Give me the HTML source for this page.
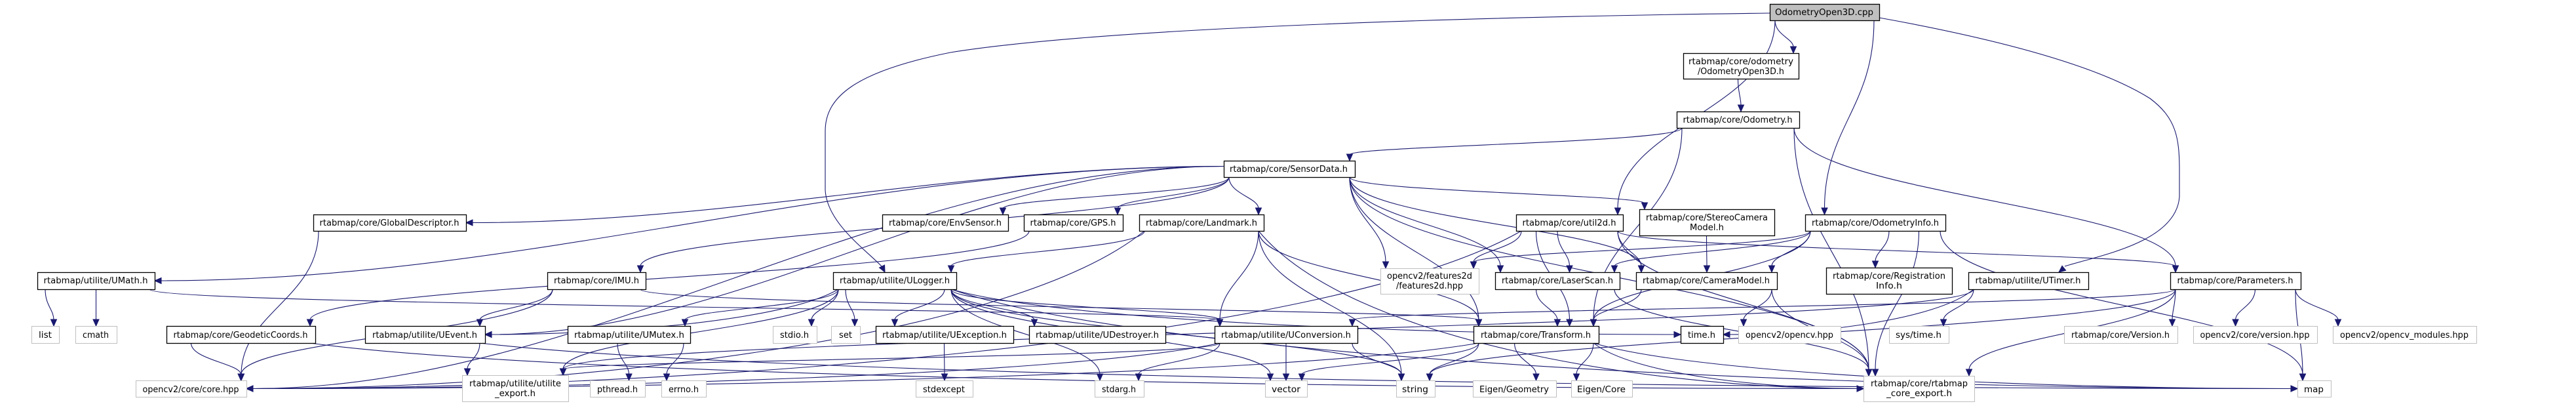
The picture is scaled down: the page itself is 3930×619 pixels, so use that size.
<!DOCTYPE html>
<html><head><meta charset="utf-8"><style>
html,body{margin:0;padding:0;background:#fff;width:3930px;height:619px;overflow:hidden}
svg text{font-family:"DejaVu Sans","Liberation Sans",sans-serif;font-size:13px;fill:#000}
</style></head><body>
<svg id="s" width="3930" height="619" viewBox="0 0 3930 619" xmlns="http://www.w3.org/2000/svg">
<g id="edges" fill="none" stroke="#191970" stroke-width="1.1"></g>
<g id="heads" fill="#191970" stroke="#191970"></g>
<g id="nodes"></g>
<g id="labels">
<text x="2783" y="23" text-anchor="middle" textLength="150" lengthAdjust="spacingAndGlyphs">OdometryOpen3D.cpp</text>
<text x="2656" y="98" text-anchor="middle" textLength="160" lengthAdjust="spacingAndGlyphs">rtabmap/core/odometry</text>
<text x="2656" y="113" text-anchor="middle" textLength="132" lengthAdjust="spacingAndGlyphs">/OdometryOpen3D.h</text>
<text x="2651" y="187" text-anchor="middle" textLength="167" lengthAdjust="spacingAndGlyphs">rtabmap/core/Odometry.h</text>
<text x="1966" y="262" text-anchor="middle" textLength="180" lengthAdjust="spacingAndGlyphs">rtabmap/core/SensorData.h</text>
<text x="594" y="344" text-anchor="middle" textLength="213" lengthAdjust="spacingAndGlyphs">rtabmap/core/GlobalDescriptor.h</text>
<text x="1442" y="344" text-anchor="middle" textLength="172" lengthAdjust="spacingAndGlyphs">rtabmap/core/EnvSensor.h</text>
<text x="1637" y="344" text-anchor="middle" textLength="131" lengthAdjust="spacingAndGlyphs">rtabmap/core/GPS.h</text>
<text x="1833" y="344" text-anchor="middle" textLength="170" lengthAdjust="spacingAndGlyphs">rtabmap/core/Landmark.h</text>
<text x="2394" y="344" text-anchor="middle" textLength="143" lengthAdjust="spacingAndGlyphs">rtabmap/core/util2d.h</text>
<text x="2604" y="336" text-anchor="middle" textLength="186" lengthAdjust="spacingAndGlyphs">rtabmap/core/StereoCamera</text>
<text x="2604" y="351" text-anchor="middle" textLength="52" lengthAdjust="spacingAndGlyphs">Model.h</text>
<text x="2861" y="344" text-anchor="middle" textLength="194" lengthAdjust="spacingAndGlyphs">rtabmap/core/OdometryInfo.h</text>
<text x="146" y="432" text-anchor="middle" textLength="159" lengthAdjust="spacingAndGlyphs">rtabmap/utilite/UMath.h</text>
<text x="910" y="432" text-anchor="middle" textLength="130" lengthAdjust="spacingAndGlyphs">rtabmap/core/IMU.h</text>
<text x="1365" y="432" text-anchor="middle" textLength="168" lengthAdjust="spacingAndGlyphs">rtabmap/utilite/ULogger.h</text>
<text x="2181" y="425" text-anchor="middle" textLength="130" lengthAdjust="spacingAndGlyphs">opencv2/features2d</text>
<text x="2181" y="440" text-anchor="middle" textLength="102" lengthAdjust="spacingAndGlyphs">/features2d.hpp</text>
<text x="2376" y="432" text-anchor="middle" textLength="170" lengthAdjust="spacingAndGlyphs">rtabmap/core/LaserScan.h</text>
<text x="2603" y="432" text-anchor="middle" textLength="194" lengthAdjust="spacingAndGlyphs">rtabmap/core/CameraModel.h</text>
<text x="2882" y="425" text-anchor="middle" textLength="172" lengthAdjust="spacingAndGlyphs">rtabmap/core/Registration</text>
<text x="2882" y="440" text-anchor="middle" textLength="40" lengthAdjust="spacingAndGlyphs">Info.h</text>
<text x="3094" y="432" text-anchor="middle" textLength="161" lengthAdjust="spacingAndGlyphs">rtabmap/utilite/UTimer.h</text>
<text x="3410" y="432" text-anchor="middle" textLength="177" lengthAdjust="spacingAndGlyphs">rtabmap/core/Parameters.h</text>
<text x="69" y="515" text-anchor="middle" textLength="20" lengthAdjust="spacingAndGlyphs">list</text>
<text x="146" y="515" text-anchor="middle" textLength="40" lengthAdjust="spacingAndGlyphs">cmath</text>
<text x="367" y="515" text-anchor="middle" textLength="205" lengthAdjust="spacingAndGlyphs">rtabmap/core/GeodeticCoords.h</text>
<text x="648" y="515" text-anchor="middle" textLength="160" lengthAdjust="spacingAndGlyphs">rtabmap/utilite/UEvent.h</text>
<text x="960" y="515" text-anchor="middle" textLength="168" lengthAdjust="spacingAndGlyphs">rtabmap/utilite/UMutex.h</text>
<text x="1212" y="515" text-anchor="middle" textLength="44" lengthAdjust="spacingAndGlyphs">stdio.h</text>
<text x="1290" y="515" text-anchor="middle" textLength="20" lengthAdjust="spacingAndGlyphs">set</text>
<text x="1441" y="515" text-anchor="middle" textLength="190" lengthAdjust="spacingAndGlyphs">rtabmap/utilite/UException.h</text>
<text x="1674" y="515" text-anchor="middle" textLength="188" lengthAdjust="spacingAndGlyphs">rtabmap/utilite/UDestroyer.h</text>
<text x="1962" y="515" text-anchor="middle" textLength="198" lengthAdjust="spacingAndGlyphs">rtabmap/utilite/UConversion.h</text>
<text x="2343" y="515" text-anchor="middle" textLength="168" lengthAdjust="spacingAndGlyphs">rtabmap/core/Transform.h</text>
<text x="2596" y="515" text-anchor="middle" textLength="42" lengthAdjust="spacingAndGlyphs">time.h</text>
<text x="2730" y="515" text-anchor="middle" textLength="134" lengthAdjust="spacingAndGlyphs">opencv2/opencv.hpp</text>
<text x="2927" y="515" text-anchor="middle" textLength="70" lengthAdjust="spacingAndGlyphs">sys/time.h</text>
<text x="3235" y="515" text-anchor="middle" textLength="150" lengthAdjust="spacingAndGlyphs">rtabmap/core/Version.h</text>
<text x="3440" y="515" text-anchor="middle" textLength="167" lengthAdjust="spacingAndGlyphs">opencv2/core/version.hpp</text>
<text x="3668" y="515" text-anchor="middle" textLength="196" lengthAdjust="spacingAndGlyphs">opencv2/opencv_modules.hpp</text>
<text x="291" y="598" text-anchor="middle" textLength="147" lengthAdjust="spacingAndGlyphs">opencv2/core/core.hpp</text>
<text x="786" y="589" text-anchor="middle" textLength="140" lengthAdjust="spacingAndGlyphs">rtabmap/utilite/utilite</text>
<text x="786" y="604" text-anchor="middle" textLength="62" lengthAdjust="spacingAndGlyphs">_export.h</text>
<text x="942" y="598" text-anchor="middle" textLength="62" lengthAdjust="spacingAndGlyphs">pthread.h</text>
<text x="1043" y="598" text-anchor="middle" textLength="46" lengthAdjust="spacingAndGlyphs">errno.h</text>
<text x="1440" y="598" text-anchor="middle" textLength="64" lengthAdjust="spacingAndGlyphs">stdexcept</text>
<text x="1707" y="598" text-anchor="middle" textLength="52" lengthAdjust="spacingAndGlyphs">stdarg.h</text>
<text x="1962" y="598" text-anchor="middle" textLength="44" lengthAdjust="spacingAndGlyphs">vector</text>
<text x="2159" y="598" text-anchor="middle" textLength="40" lengthAdjust="spacingAndGlyphs">string</text>
<text x="2310" y="598" text-anchor="middle" textLength="106" lengthAdjust="spacingAndGlyphs">Eigen/Geometry</text>
<text x="2443" y="598" text-anchor="middle" textLength="74" lengthAdjust="spacingAndGlyphs">Eigen/Core</text>
<text x="2928" y="589" text-anchor="middle" textLength="148" lengthAdjust="spacingAndGlyphs">rtabmap/core/rtabmap</text>
<text x="2928" y="604" text-anchor="middle" textLength="100" lengthAdjust="spacingAndGlyphs">_core_export.h</text>
<text x="3530" y="598" text-anchor="middle" textLength="30" lengthAdjust="spacingAndGlyphs">map</text>
</g>
</svg>
<script>
var N={
cpp:[2700,2867,6,31,2],oo3h:[2568,2744,81,120,0],odo:[2558,2745,170,195,0],sd:[1867,2067,245,270,0],
gd:[478,711,327,352,0],env:[1346,1538,327,352,0],gps:[1562,1713,327,352,0],lm:[1738,1928,327,352,0],
u2d:[2313,2476,327,352,0],stereo:[2501,2707,319,359,0],oinfo:[2754,2968,327,352,0],
umath:[57,236,415,441,0],imu:[835,985,415,441,0],ulog:[1271,1459,415,441,0],f2d:[2106,2256,409,448,1],
laser:[2281,2471,415,441,0],cam:[2496,2711,415,441,0],reg:[2786,2978,408,448,0],utimer:[3003,3186,415,441,0],params:[3311,3510,415,441,0],
list:[48,90,497,523,1],cmath:[115,178,497,523,1],geo:[254,481,497,523,0],uevent:[557,740,497,523,0],umutex:[866,1053,497,523,0],
stdio:[1179,1246,497,523,1],set:[1268,1312,497,523,1],uexc:[1336,1546,497,523,0],udest:[1570,1778,497,523,0],uconv:[1853,2071,497,523,0],
transform:[2248,2439,497,523,0],timeh:[2564,2629,497,523,0],ocvhpp:[2652,2808,497,523,1],systime:[2882,2973,497,523,1],
version:[3149,3322,497,523,1],cvver:[3346,3535,497,523,1],modules:[3559,3778,497,523,1],
corehpp:[207,376,580,605,1],uexport:[705,867,572,612,1],pthread:[900,984,580,605,1],errno:[1009,1077,580,605,1],
stdexcept:[1397,1484,580,605,1],stdarg:[1670,1745,580,605,1],vector:[1930,1994,580,605,1],string:[2130,2189,580,605,1],
eigeo:[2247,2374,580,605,1],eicore:[2397,2490,580,605,1],cexport:[2843,3012,573,612,1],map:[3505,3556,580,605,1]};
var SIDE={cexport:1,map:1,corehpp:1,gd:1,umath:1,uevent:1,timeh:1};
var E=[
['cpp','oo3h'],['cpp','u2d'],['cpp','oinfo'],['oo3h','odo'],
['odo','sd'],['odo','transform'],['odo','params'],['odo','cexport'],
['sd','corehpp'],['sd','gd'],['sd','env'],['sd','gps'],['sd','lm'],['sd','imu'],['sd','umath'],['sd','f2d'],['sd','laser'],['sd','cam'],['sd','stereo'],['sd','transform'],['sd','cexport'],['sd','uevent'],
['gd','corehpp'],['gps','geo'],
['lm','ulog'],['lm','transform'],['lm','uconv'],['lm','string'],['lm','cexport'],['lm','corehpp'],
['u2d','f2d'],['u2d','cam'],['u2d','laser'],['u2d','transform'],['u2d','params'],['u2d','corehpp'],['u2d','cexport'],
['stereo','cam'],
['oinfo','laser'],['oinfo','cam'],['oinfo','transform'],['oinfo','reg'],['oinfo','f2d'],['oinfo','map'],['oinfo','cexport'],
['umath','list'],['umath','cmath'],['umath','uconv'],
['imu','uevent'],['imu','corehpp'],['imu','transform'],
['ulog','umutex'],['ulog','uevent'],['ulog','stdio'],['ulog','set'],['ulog','uexc'],['ulog','udest'],['ulog','uexport'],['ulog','stdarg'],['ulog','vector'],['ulog','string'],['ulog','map'],['ulog','timeh'],['ulog','uconv'],
['laser','transform'],['laser','cexport'],
['cam','transform'],['cam','ocvhpp'],['cam','cexport'],
['utimer','timeh'],['utimer','systime'],['utimer','uexport'],
['params','version'],['params','cvver'],['params','modules'],['params','map'],['params','cexport'],['params','string'],['params','uconv'],
['geo','corehpp'],['geo','cexport'],
['uevent','uexport'],['uevent','map'],
['umutex','pthread'],['umutex','errno'],['uexc','stdexcept'],
['uconv','stdarg'],['uconv','vector'],['uconv','string'],['uconv','uexport'],['uconv','corehpp'],
['transform','vector'],['transform','string'],['transform','eigeo'],['transform','eicore'],['transform','cexport'],['transform','map'],['transform','corehpp']
];
var NS='http://www.w3.org/2000/svg';
function el(t,a,p){var e=document.createElementNS(NS,t);for(var k in a)e.setAttribute(k,a[k]);p.appendChild(e);return e;}
var gn=document.getElementById('nodes'),ge=document.getElementById('edges'),gh=document.getElementById('heads');
for(var k in N){var n=N[k];el('rect',{x:n[0]+0.5,y:n[2]+0.5,width:n[1]-n[0],height:n[3]-n[2],fill:n[4]==2?'#bfbfbf':'#fff',stroke:n[4]==1?'#bfbfbf':'#000','stroke-width':n[4]==1?1:1.3},gn);}
function cl(v,a,b){return Math.max(a,Math.min(b,v));}
function head(x2,y2,dx,dy){var L=Math.hypot(dx,dy)||1;dx/=L;dy/=L;var bx=x2-dx*10,by=y2-dy*10,px=-dy*4.5,py=dx*4.5;
 el('polygon',{points:x2+','+y2+' '+(bx+px)+','+(by+py)+' '+(bx-px)+','+(by-py)},gh);}
E.forEach(function(e){var s=N[e[0]],t=N[e[1]];
 var scx=(s[0]+s[1])/2,tcx=(t[0]+t[1])/2;
 var gap=Math.max(t[2]-s[3],15);
 var hd= t[0]>s[1]? t[0]-s[1] : (s[0]>t[1]? s[0]-t[1] : 0);
 if(SIDE[e[1]] && hd>3.5*gap){
  var right=t[0]>s[1];
  var x1,y1,c1x,c1y;
  var x2=right?t[0]:t[1], y2=(t[2]+t[3])/2;
  var xe=right?x2-9:x2+9;
  if(s[3]<300){
   x1=right?s[1]:s[0]; y1=(s[2]+s[3])/2+(right?4:-4);
   c1x=x1+(x2-x1)*0.35; c1y=y1;
  } else {
   x1=cl(tcx,s[0]+8,s[1]-8); y1=s[3];
   c1x=x1+(x2-x1)*0.15; c1y=y1+(y2-y1)*0.7;
  }
  var c2x=x2-(x2-x1)*0.35;
  el('path',{d:'M'+x1+','+y1+' C'+c1x+','+c1y+' '+c2x+','+y2+' '+xe+','+y2},ge);
  head(x2,y2,right?1:-1,0);
 } else {
  var x1=cl(tcx,s[0]+8,s[1]-8),y1=s[3];
  var x2=cl(scx,t[0]+8,t[1]-8),y2=t[2];
  var dy=y2-y1,c1y=y1+dy*0.45,c2y=y2-dy*0.45;
  el('path',{d:'M'+x1+','+y1+' C'+x1+','+c1y+' '+x2+','+c2y+' '+x2+','+(y2-9)},ge);
  head(x2,y2,0,1);
 }
});
el('path',{d:'M2700,20 C2300,25 1700,40 1450,80 C1300,110 1259,150 1259,200 L1259,290 C1262,340 1320,380 1345,406'},ge);
head(1350,415,0.5,1);
el('path',{d:'M2867,27 C3050,60 3200,100 3280,150 C3320,180 3325,210 3325,260 L3325,300 C3320,370 3200,390 3150,406'},ge);
head(3141,415,-1,0.8);
</script>
</body></html>
